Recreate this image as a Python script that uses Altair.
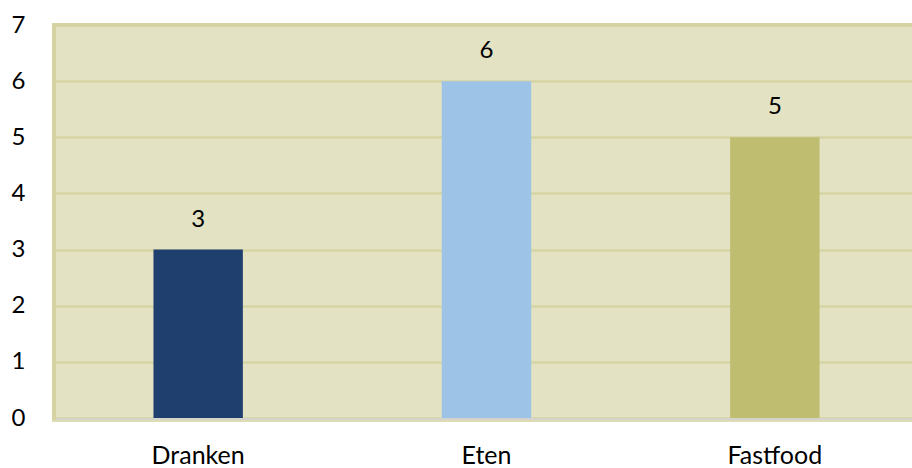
import altair as alt
import pandas as pd

categories = ["Dranken", "Eten", "Fastfood"]
values = [3, 6, 5]
colors = ["#1F3F6F", "#9DC3E6", "#BFBD70"]

df = pd.DataFrame({"cat": categories, "val": values, "col": colors})

FONT = "Lato"
W = 858
H = 393
BORDER = "#D5D3A2"

base = alt.Chart(df).encode(
    x=alt.X(
        "cat:N",
        sort=categories,
        scale=alt.Scale(paddingInner=0.69, paddingOuter=0.345, range=[0, 865]),
        axis=alt.Axis(
            title=None, labelAngle=0, ticks=False, domain=False,
            labelPadding=25, labelFontSize=25, labelFont=FONT, labelColor="#000000",
        ),
    )
)

bars = base.mark_bar().encode(
    y=alt.Y(
        "val:Q",
        scale=alt.Scale(domain=[0, 7], nice=False),
        axis=alt.Axis(
            title=None, values=[0, 1, 2, 3, 4, 5, 6, 7], ticks=False, domain=False,
            labelPadding=29, labelFontSize=24, labelFont=FONT, labelColor="#000000",
            grid=True, gridColor="#D6D4A4", gridWidth=2.5, format="d",
        ),
    ),
    color=alt.Color("col:N", scale=None, legend=None),
)

labels = base.mark_text(dy=-30, fontSize=24, font=FONT, color="#000000").encode(
    y=alt.Y("val:Q"),
    text=alt.Text("val:Q"),
)

left_border = alt.Chart(df).mark_rule(color=BORDER, strokeWidth=4).encode(
    x=alt.value(0), y=alt.value(-2), y2=alt.value(H + 3)
)
top_border = alt.Chart(df).mark_rule(color=BORDER, strokeWidth=4).encode(
    x=alt.value(-2), x2=alt.value(W), y=alt.value(0)
)
bottom_shadow = alt.Chart(df).mark_rule(color="#D4D4CC", strokeWidth=2).encode(
    x=alt.value(2), x2=alt.value(W), y=alt.value(H + 1)
)
bottom_border = alt.Chart(df).mark_rule(color="#DEDCB4", strokeWidth=2).encode(
    x=alt.value(-2), x2=alt.value(W), y=alt.value(H + 3)
)

chart = (
    alt.layer(bars, labels, left_border, top_border, bottom_shadow, bottom_border)
    .properties(
        width=W,
        height=H,
        padding={"left": 54, "top": 25, "right": 0, "bottom": 50},
        autosize=alt.AutoSizeParams(type="none"),
        background="#FFFFFF",
    )
    .configure_view(fill="#E3E2C2", strokeWidth=0)
)

chart.save("out.html", embed_options={"renderer": "svg", "actions": False})
